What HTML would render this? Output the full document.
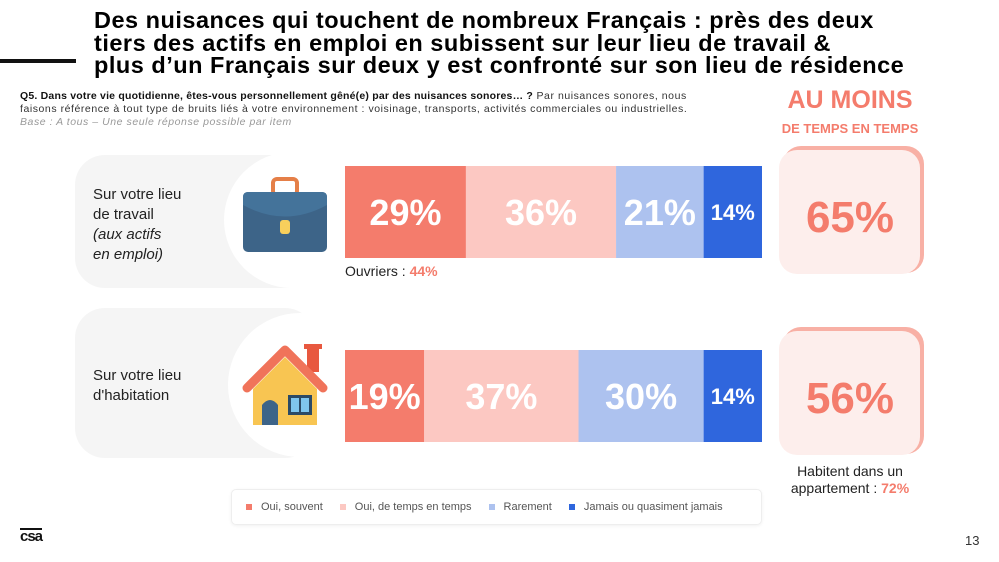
<!DOCTYPE html>
<html><head><meta charset="utf-8">
<style>
body{margin:0;width:999px;height:562px;background:#fff;font-family:"Liberation Sans",sans-serif;overflow:hidden;position:relative}
.abs{position:absolute}
</style></head>
<body>
<div class="abs" style="left:0;top:59px;width:76px;height:4px;background:#111"></div>
<div class="abs" style="left:94px;top:9px;width:900px;font-weight:bold;font-size:23.5px;line-height:22.5px;color:#000;letter-spacing:0.5px;white-space:nowrap">Des nuisances qui touchent de nombreux Français : près des deux<br>tiers des actifs en emploi en subissent sur leur lieu de travail &amp;<br>plus d’un Français sur deux y est confronté sur son lieu de résidence</div>
<div class="abs" style="left:20px;top:90px;width:740px;font-size:10.5px;line-height:13px;color:#333;white-space:nowrap;letter-spacing:0.55px"><b style="color:#111;letter-spacing:0.2px">Q5. Dans votre vie quotidienne, êtes-vous personnellement gêné(e) par des nuisances sonores… ?</b> Par nuisances sonores, nous<br>faisons référence à tout type de bruits liés à votre environnement : voisinage, transports, activités commerciales ou industrielles.<br><i style="color:#999">Base : A tous – Une seule réponse possible par item</i></div>
<div class="abs" style="left:760px;top:86px;width:180px;text-align:center;color:#f47c6c;font-weight:bold"><div style="font-size:25px;line-height:28px">AU MOINS</div><div style="font-size:13px;line-height:16px;margin-top:7px">DE TEMPS EN TEMPS</div></div>

<svg class="abs" style="left:0;top:0" width="999" height="562">
  <g>
    <rect x="75" y="155" width="240" height="133" rx="30" fill="#f5f5f5"/>
    <circle cx="292" cy="220" r="68" fill="#fff"/>
    <rect x="75" y="308" width="240" height="150" rx="30" fill="#f5f5f5"/>
    <circle cx="300" cy="385" r="72" fill="#fff"/>
  </g>
  <g>
    <rect x="273" y="179" width="24" height="16" rx="4" fill="none" stroke="#e57f48" stroke-width="4"/>
    <rect x="243" y="192" width="84" height="60" rx="5" fill="#3d6488"/>
    <path d="M243 205 Q285 228 327 205 V197 Q327 192 322 192 H248 Q243 192 243 197Z" fill="#44739a"/>
    <rect x="280" y="220" width="10" height="14" rx="3" fill="#f8cf5c"/>
  </g>
  <g>
    <rect x="307" y="347" width="12" height="25" fill="#e8583f"/>
    <rect x="304" y="344" width="18" height="5" fill="#e8583f"/>
    <polygon points="253,389 285,357 317,389 317,425 253,425" fill="#f8c552"/>
    <path d="M247 388 L285 350 L323 388" fill="none" stroke="#f0735a" stroke-width="9" stroke-linecap="round" stroke-linejoin="round"/>
    <path d="M262 425 V405 Q270 395 278 405 V425Z" fill="#3d6488"/>
    <rect x="288" y="395" width="24" height="20" fill="#2b4a66"/>
    <rect x="291" y="398" width="8" height="14" fill="#7fc6ee"/><rect x="301" y="398" width="8" height="14" fill="#7fc6ee"/>
  </g>
  <g id="bars"></g>
  <g>
    <rect x="783" y="146" width="141" height="127" rx="18" fill="#f8b0a5"/>
    <rect x="779" y="150" width="141" height="124" rx="18" fill="#fdeeec"/>
    <text x="850" y="232" text-anchor="middle" font-size="44" font-weight="bold" fill="#f47c6c">65%</text>
    <rect x="783" y="327" width="141" height="127" rx="18" fill="#f8b0a5"/>
    <rect x="779" y="331" width="141" height="124" rx="18" fill="#fdeeec"/>
    <text x="850" y="413" text-anchor="middle" font-size="44" font-weight="bold" fill="#f47c6c">56%</text>
  </g>
</svg>

<div class="abs" style="left:93px;top:185px;font-size:15px;line-height:20px;color:#222">Sur votre lieu<br>de travail<br><i>(aux actifs<br>en emploi)</i></div>
<div class="abs" style="left:93px;top:366px;font-size:15px;line-height:20px;color:#222">Sur votre lieu<br>d'habitation</div>
<div class="abs" style="left:345px;top:263px;font-size:14px;color:#222">Ouvriers : <span style="color:#f47c6c;font-weight:bold">44%</span></div>
<div class="abs" style="left:770px;top:463px;width:160px;text-align:center;font-size:14px;line-height:17px;color:#222">Habitent dans un<br>appartement : <span style="color:#f47c6c;font-weight:bold">72%</span></div>

<div class="abs" style="left:231px;top:489px;width:531px;height:36px;border:1px solid #eee;border-radius:5px;box-shadow:0 1px 3px rgba(0,0,0,.06);font-size:11px;color:#555;display:flex;align-items:center;gap:17px;padding-left:14px;box-sizing:border-box">
  <span><span style="display:inline-block;width:6px;height:6px;background:#f47c6c;margin-right:9px"></span>Oui, souvent</span>
  <span><span style="display:inline-block;width:6px;height:6px;background:#fcc8c2;margin-right:9px"></span>Oui, de temps en temps</span>
  <span><span style="display:inline-block;width:6px;height:6px;background:#adc2ef;margin-right:9px"></span>Rarement</span>
  <span><span style="display:inline-block;width:6px;height:6px;background:#2f66dd;margin-right:9px"></span>Jamais ou quasiment jamais</span>
</div>
<div class="abs" style="left:20px;top:528px;font-size:15px;font-weight:bold;color:#111;letter-spacing:-1px;border-top:2px solid #111;line-height:14px">csa</div>
<div class="abs" style="left:965px;top:533px;font-size:13px;color:#333">13</div>

<script>
const categories = ["Sur votre lieu de travail", "Sur votre lieu d'habitation"];
const souvent = [29, 19];
const tempsEnTemps = [36, 37];
const rarement = [21, 30];
const jamais = [14, 14];
const seriesNames = ["souvent","temps-en-temps","rarement","jamais"];
const colors = ["#f47c6c","#fcc8c2","#adc2ef","#2f66dd"];
const rowTop = [166, 350];
const barH = 92;
const x0 = 345, scale = 417/100;
function xPos(v){ return x0 + v*scale; }
const g = document.getElementById('bars');
const NS = "http://www.w3.org/2000/svg";
const series = [souvent, tempsEnTemps, rarement, jamais];
categories.forEach((c, i) => {
  let cum = 0;
  series.forEach((s, k) => {
    const v = s[i];
    const r = document.createElementNS(NS, 'rect');
    r.setAttribute('x', xPos(cum)); r.setAttribute('y', rowTop[i]);
    r.setAttribute('width', v*scale); r.setAttribute('height', barH);
    r.setAttribute('fill', colors[k]);
    
    
    g.appendChild(r);
    const t = document.createElementNS(NS, 'text');
    const small = v < 16;
    t.setAttribute('x', xPos(cum + v/2)); t.setAttribute('y', rowTop[i] + barH/2 + (small ? 8 : 13));
    t.setAttribute('text-anchor', 'middle');
    t.setAttribute('font-size', small ? 22 : 36);
    t.setAttribute('font-weight', 'bold');
    t.setAttribute('fill', '#fff');
    t.textContent = v + '%';
    
    
    g.appendChild(t);
    cum += v;
  });
});
</script>
</body></html>
